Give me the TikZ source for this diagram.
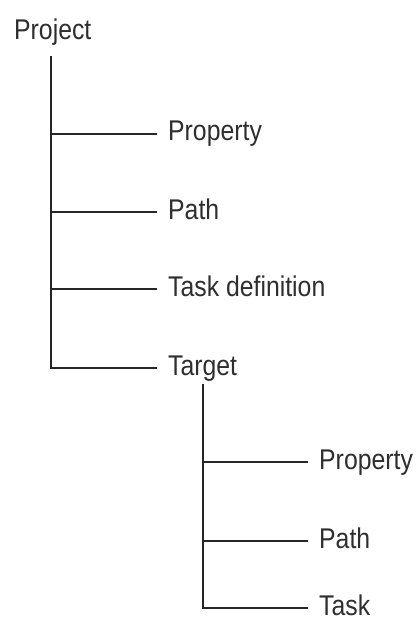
\documentclass[tikz,border=0pt]{standalone}
\usepackage{fontspec}
\setmainfont[FakeStretch=0.87]{Liberation Sans}
\begin{document}
\begin{tikzpicture}[x=1pt,y=-1pt,
  lbl/.style={anchor=base west,inner xsep=11pt,inner ysep=0pt,text=black!82,font=\fontsize{28.5}{32}\selectfont},
  conn/.style={draw=black!85,line width=1.6pt}]
\useasboundingbox[fill=white] (0,0) rectangle (419,628);
\node[lbl] (proj) at (3,40) {Project};
\node[lbl] (prop1) at (157,141) {Property};
\node[lbl] (path1) at (157,219) {Path};
\node[lbl] (tdef) at (157,296) {Task definition};
\node[lbl] (tgt) at (157,375) {Target};
\node[lbl] (prop2) at (308,469) {Property};
\node[lbl] (path2) at (308,548) {Path};
\node[lbl] (task) at (308,615) {Task};
\coordinate (t1) at (51,56);
\coordinate (t2) at (203,384);
\foreach \c in {prop1,path1,tdef,tgt,prop2,path2,task}
  \coordinate (\c-in) at ([yshift=7pt]\c.base west);
\draw[conn] (t1) |- (tgt-in);
\foreach \c in {prop1,path1,tdef}
  \draw[conn] (t1 |- \c-in) -- (\c-in);
\draw[conn] (t2) |- (task-in);
\foreach \c in {prop2,path2}
  \draw[conn] (t2 |- \c-in) -- (\c-in);
\end{tikzpicture}
\end{document}
